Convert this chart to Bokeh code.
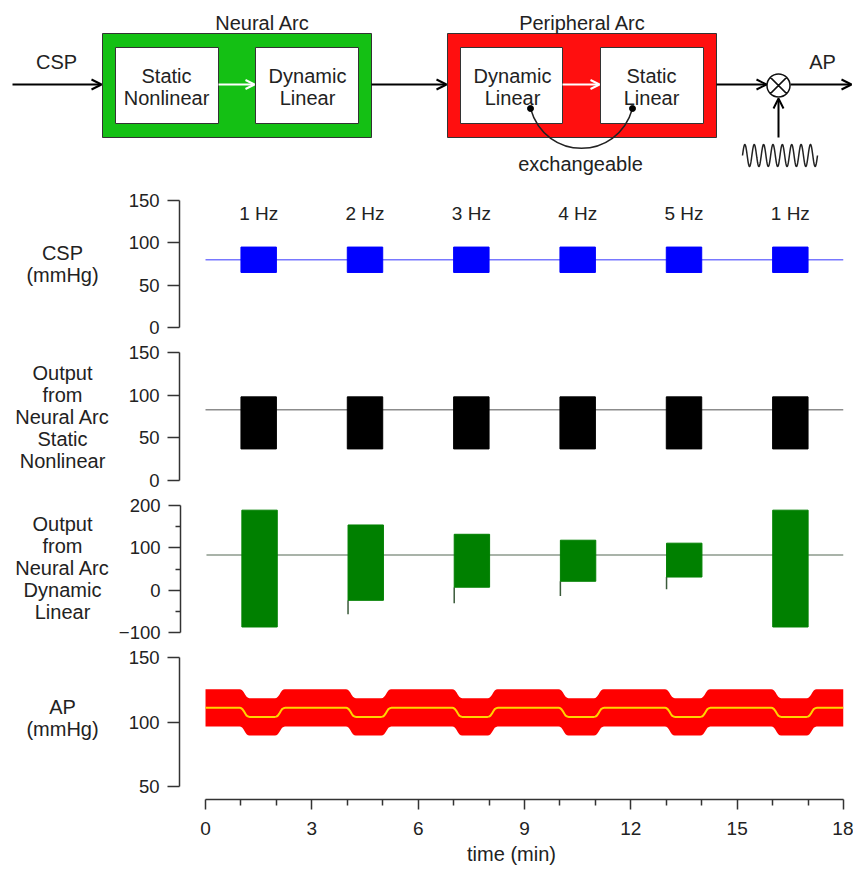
import numpy as np
from bokeh.plotting import figure
from bokeh.layouts import column, row
from bokeh.models import Range1d, FixedTicker, Arrow, OpenHead
from bokeh.core.properties import value
from bokeh.embed import file_html
from bokeh.resources import INLINE

FONT = "Liberation Sans"
W = 853

# ---- stimulation protocol (minutes) ----
stim_start = [1, 4, 7, 10, 13, 16]
stim_end = [2, 5, 8, 11, 14, 17]
stim_freq = ["1 Hz", "2 Hz", "3 Hz", "4 Hz", "5 Hz", "1 Hz"]

# carotid sinus pressure (mmHg)
csp_base = 80
csp_low = 65
csp_high = 95

# neural arc, static nonlinear output
sn_base = 83
sn_low = 37
sn_high = 98

# neural arc, dynamic linear output (envelope per stimulation block)
dl_base = 83
dl_high = [189, 154, 132, 118, 111, 189]
dl_low = [-87, -24, 7, 21, 31, -87]
dl_spike = [-87, -57, -31, -14, 2, -87]

# arterial pressure: mean level and respiratory swing
ap_t = [
    0.0,
    0.96, 1.00, 1.04, 1.08, 1.12, 1.16, 1.20, 1.24,
    1.96, 2.00, 2.04, 2.08, 2.12, 2.16, 2.20, 2.24,
    3.96, 4.00, 4.04, 4.08, 4.12, 4.16, 4.20, 4.24,
    4.96, 5.00, 5.04, 5.08, 5.12, 5.16, 5.20, 5.24,
    6.96, 7.00, 7.04, 7.08, 7.12, 7.16, 7.20, 7.24,
    7.96, 8.00, 8.04, 8.08, 8.12, 8.16, 8.20, 8.24,
    9.96, 10.00, 10.04, 10.08, 10.12, 10.16, 10.20, 10.24,
    10.96, 11.00, 11.04, 11.08, 11.12, 11.16, 11.20, 11.24,
    12.96, 13.00, 13.04, 13.08, 13.12, 13.16, 13.20, 13.24,
    13.96, 14.00, 14.04, 14.08, 14.12, 14.16, 14.20, 14.24,
    15.96, 16.00, 16.04, 16.08, 16.12, 16.16, 16.20, 16.24,
    16.96, 17.00, 17.04, 17.08, 17.12, 17.16, 17.20, 17.24,
    18.0,
]
ap_mean = [
    111,
    111, 110.8, 110.0, 108.5, 106.6, 105.0, 104.3, 104,
    104, 104.2, 105.0, 106.5, 108.4, 110.0, 110.7, 111,
    111, 110.8, 110.0, 108.5, 106.6, 105.0, 104.3, 104,
    104, 104.2, 105.0, 106.5, 108.4, 110.0, 110.7, 111,
    111, 110.8, 110.0, 108.5, 106.6, 105.0, 104.3, 104,
    104, 104.2, 105.0, 106.5, 108.4, 110.0, 110.7, 111,
    111, 110.8, 110.0, 108.5, 106.6, 105.0, 104.3, 104,
    104, 104.2, 105.0, 106.5, 108.4, 110.0, 110.7, 111,
    111, 110.8, 110.0, 108.5, 106.6, 105.0, 104.3, 104,
    104, 104.2, 105.0, 106.5, 108.4, 110.0, 110.7, 111,
    111, 110.8, 110.0, 108.5, 106.6, 105.0, 104.3, 104,
    104, 104.2, 105.0, 106.5, 108.4, 110.0, 110.7, 111,
    111,
]
ap_swing = 14.5

x_ticks = [0, 3, 6, 9, 12, 15, 18]
x_minor = [1, 2, 4, 5, 7, 8, 10, 11, 13, 14, 16, 17]

AXIS = "#333333"
TXT = "#222222"

# ---------------- block diagram ----------------
d = figure(width=W, height=185, x_range=Range1d(0, W), y_range=Range1d(185, 0),
           output_backend="svg", toolbar_location=None,
           x_axis_type=None, y_axis_type=None, min_border=0)
d.frame_align = False
d.outline_line_color = None
d.grid.visible = False

d.quad(left=[102, 447], right=[371, 716], top=[33, 33], bottom=[137, 137],
       fill_color=["#14c014", "#ff0f0f"], line_color="#333333", line_width=1)
d.quad(left=[115, 255, 460, 600], right=[218, 358, 562, 703], top=47, bottom=123,
       fill_color="white", line_color="#333333", line_width=1)

d.text(x=[56, 262, 582, 822, 580],
       y=[61, 22, 22, 61, 163],
       text=["CSP", "Neural Arc", "Peripheral Arc", "AP", "exchangeable"],
       text_align="center", text_baseline="middle",
       text_font=value(FONT), text_font_size="20px", text_color=TXT)
d.text(x=[166, 166, 307, 307, 512, 512, 651, 651],
       y=[75, 97, 75, 97, 75, 97, 75, 97],
       text=["Static", "Nonlinear", "Dynamic", "Linear", "Dynamic", "Linear", "Static", "Linear"],
       text_align="center", text_baseline="middle",
       text_font=value(FONT), text_font_size="20px", text_color=TXT)

for (x0, y0, x1, y1) in [(12, 84, 101, 84), (371, 84, 446, 84), (716, 84, 766, 84),
                         (790, 84, 851, 84), (778, 137, 778, 98)]:
    d.add_layout(Arrow(end=OpenHead(size=10, line_width=2, line_color="black"),
                       x_start=x0, y_start=y0, x_end=x1, y_end=y1,
                       line_width=2, line_color="black"))
for (x0, y0, x1, y1) in [(218, 84, 254, 84), (562, 84, 599, 84)]:
    d.add_layout(Arrow(end=OpenHead(size=9, line_width=2, line_color="white"),
                       x_start=x0, y_start=y0, x_end=x1, y_end=y1,
                       line_width=2, line_color="white"))

d.bezier(x0=[530], y0=[108], x1=[632], y1=[108], cx0=[545], cy0=[161], cx1=[617], cy1=[161],
         line_color=TXT, line_width=1.5)
d.scatter([530, 632], [108, 108], size=6, color="black")
d.scatter([778], [85], marker="circle_x", size=23, fill_color="white",
          line_color="#111111", line_width=1.5)

# respiratory oscillation symbol
osc_x = np.linspace(742, 817, 300)
osc_y = 155 - 11 * np.sin((osc_x - 742) / 75 * 8 * 2 * np.pi)
d.line(osc_x, osc_y, line_color=TXT, line_width=1.5)

# ---------------- time panels ----------------
LAB_W = 115          # width of the side-title strip
x_rng = Range1d(-0.734, 18)


def panel(height, y_rng, top, bottom, ticks, minor=None):
    p = figure(width=W - LAB_W, height=height, x_range=x_rng, y_range=y_rng,
               output_backend="svg", toolbar_location=None,
               min_border_left=179 - LAB_W, min_border_right=10,
               min_border_top=top, min_border_bottom=bottom)
    p.outline_line_color = None
    p.grid.visible = False
    p.xaxis.visible = False
    ya = p.yaxis[0]
    ya.ticker = FixedTicker(ticks=ticks, minor_ticks=minor or [])
    ya.axis_line_color = AXIS
    ya.axis_line_width = 1.5
    ya.major_tick_line_color = AXIS
    ya.major_tick_line_width = 1.5
    ya.major_tick_out = 12
    ya.major_tick_in = 0
    ya.minor_tick_line_color = AXIS
    ya.minor_tick_line_width = 1.5
    ya.minor_tick_out = 5
    ya.minor_tick_in = 0
    ya.major_label_text_font = FONT
    ya.major_label_text_font_size = "18.5px"
    ya.major_label_text_color = TXT
    ya.major_label_standoff = 8
    return p


def side_title(height, y_rng, top, bottom, y, text):
    s = figure(width=LAB_W, height=height, x_range=Range1d(0, LAB_W), y_range=y_rng,
               output_backend="svg", toolbar_location=None,
               x_axis_type=None, y_axis_type=None,
               min_border_left=0, min_border_right=0,
               min_border_top=top, min_border_bottom=bottom)
    s.frame_align = False
    s.outline_line_color = None
    s.grid.visible = False
    s.text(x=[62], y=[y], text=[text], text_align="center", text_baseline="middle",
           text_font=value(FONT), text_font_size="20px", text_color=TXT,
           text_line_height=1.0)
    return s


# CSP
y1r = Range1d(0, 150)
p1 = panel(153, y1r, 15, 11, [0, 50, 100, 150])
p1.line([0, 18], [csp_base, csp_base], line_color="#7878ff", line_width=1.5)
p1.quad(left=stim_start, right=stim_end, bottom=csp_low, top=csp_high,
        fill_color="#0000ff", line_color="#0000ff")
p1.text(x=[(a + b) / 2 for a, b in zip(stim_start, stim_end)], y=134.6, text=stim_freq,
        text_align="center", text_baseline="middle",
        text_font=value(FONT), text_font_size="19px", text_color=TXT)
s1 = side_title(153, y1r, 15, 11, 75, "CSP\n(mmHg)")

# static nonlinear output
y2r = Range1d(0, 150)
p2 = panel(152, y2r, 14, 10, [0, 50, 100, 150])
p2.line([0, 18], [sn_base, sn_base], line_color="#8c8c8c", line_width=1.5)
p2.quad(left=stim_start, right=stim_end, bottom=sn_low, top=sn_high,
        fill_color="black", line_color="black")
s2 = side_title(152, y2r, 14, 10, 74, "Output\nfrom\nNeural Arc\nStatic\nNonlinear")

# dynamic linear output
y3r = Range1d(-100, 200)
p3 = panel(152, y3r, 15, 10, [-100, 0, 100, 200], [-50, 50, 150])
p3.yaxis[0].major_label_overrides = {-100: "\u2212100"}
p3.line([0, 18], [dl_base, dl_base], line_color="#8c9a8c", line_width=1.5)
p3.segment(x0=stim_start, y0=dl_low, x1=stim_start, y1=dl_spike,
           line_color="#3a5a3a", line_width=1.5)
p3.quad(left=stim_start, right=stim_end, bottom=dl_low, top=dl_high,
        fill_color="#008000", line_color="#008000")
s3 = side_title(152, y3r, 15, 10, 52, "Output\nfrom\nNeural Arc\nDynamic\nLinear")

# arterial pressure
y4r = Range1d(40, 150)
p4 = panel(228, y4r, 15, 71, [50, 100, 150])
p4.yaxis[0].bounds = (50, 150)
p4.xaxis.visible = True
xa = p4.xaxis[0]
xa.bounds = (0, 18)
xa.ticker = FixedTicker(ticks=x_ticks, minor_ticks=x_minor)
xa.axis_line_color = AXIS
xa.axis_line_width = 1.5
xa.major_tick_line_color = AXIS
xa.major_tick_line_width = 1.5
xa.major_tick_out = 10
xa.major_tick_in = 0
xa.minor_tick_line_color = AXIS
xa.minor_tick_line_width = 1.5
xa.minor_tick_out = 6
xa.minor_tick_in = 0
xa.major_label_text_font = FONT
xa.major_label_text_font_size = "19px"
xa.major_label_text_color = TXT
xa.major_label_standoff = 12
xa.axis_label = "time (min)"
xa.axis_label_text_font = FONT
xa.axis_label_text_font_size = "20px"
xa.axis_label_text_font_style = "normal"
xa.axis_label_text_color = TXT
xa.axis_label_standoff = 5

ap_lo = [m - ap_swing for m in ap_mean]
ap_hi = [m + ap_swing for m in ap_mean]
p4.varea(x=ap_t, y1=ap_lo, y2=ap_hi, fill_color="#ff0000")
p4.line(ap_t, ap_mean, line_color="#ffd400", line_width=2)
s4 = side_title(228, y4r, 15, 71, 103.5, "AP\n(mmHg)")

layout = column(d,
                row(s1, p1, spacing=0),
                row(s2, p2, spacing=0),
                row(s3, p3, spacing=0),
                row(s4, p4, spacing=0),
                spacing=0)
open("out.html", "w").write(file_html(layout, INLINE))
